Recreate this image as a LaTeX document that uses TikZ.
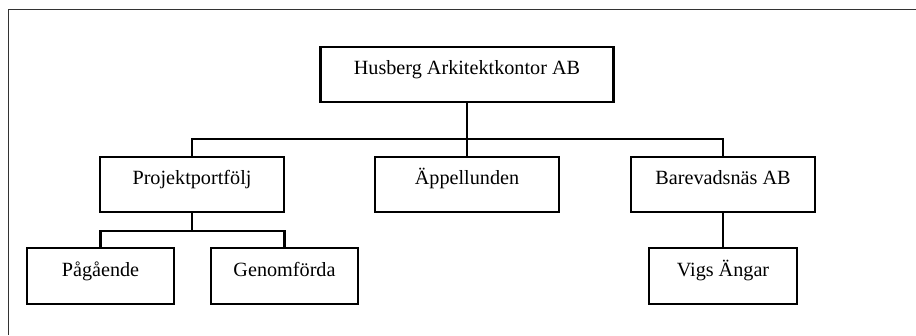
\documentclass[tikz,border=0pt]{standalone}
\usepackage{fontspec}
\setmainfont{Liberation Serif}
\begin{document}
\begin{tikzpicture}[x=1pt,y=-1pt,
  box/.style={draw=black, line width=2.6pt, inner xsep=0pt, inner ysep=0pt,
    font=\fontsize{20.2pt}{24pt}\selectfont, text height=27.5pt, text depth=27.5pt},
  wide/.style={box, minimum width=184pt},
  small/.style={box, minimum width=147pt, text height=28pt, text depth=28pt},
  bus/.style={line width=2.3pt, line cap=rect},
  thin/.style={line width=1.1pt},
  frame/.style={line width=1.4pt, draw=black!80}]
\useasboundingbox (0,0) rectangle (916,335);
\coordinate (fl) at (8.3,335);
\coordinate (fc) at (8.3,9.5);
\coordinate (fr) at (916,9.5);
\draw[frame] (fl) -- (fc) -- (fr);

\node[box, minimum width=293pt] (top) at (467,74.5) {Husberg Arkitektkontor AB};
\node[wide] (proj) at (192,184.5) {Projektportfölj};
\node[wide] (app) at (467,184.5) {Äppellunden};
\node[wide] (bare) at (723,184.5) {Barevadsnäs AB};
\node[small] (pag) at (100.5,276) {Pågående};
\node[small] (gen) at (284.5,276) {Genomförda};
\node[small, minimum width=148pt] (vigs) at (723,276) {Vigs Ängar};

\draw[bus] (top.south) -- ++(0,36) coordinate (b1);
\draw[bus] (b1) -| (proj.north);
\draw[bus] (b1) -| (bare.north);
\draw[bus] (b1) -- (app.north);
\draw[thin] (proj.south) -- ++(0,18) coordinate (b2);
\draw[bus] (b2) -| (pag.north);
\draw[bus] (b2) -| (gen.north);
\draw[bus] (bare.south) -- (vigs.north);
\end{tikzpicture}
\end{document}
